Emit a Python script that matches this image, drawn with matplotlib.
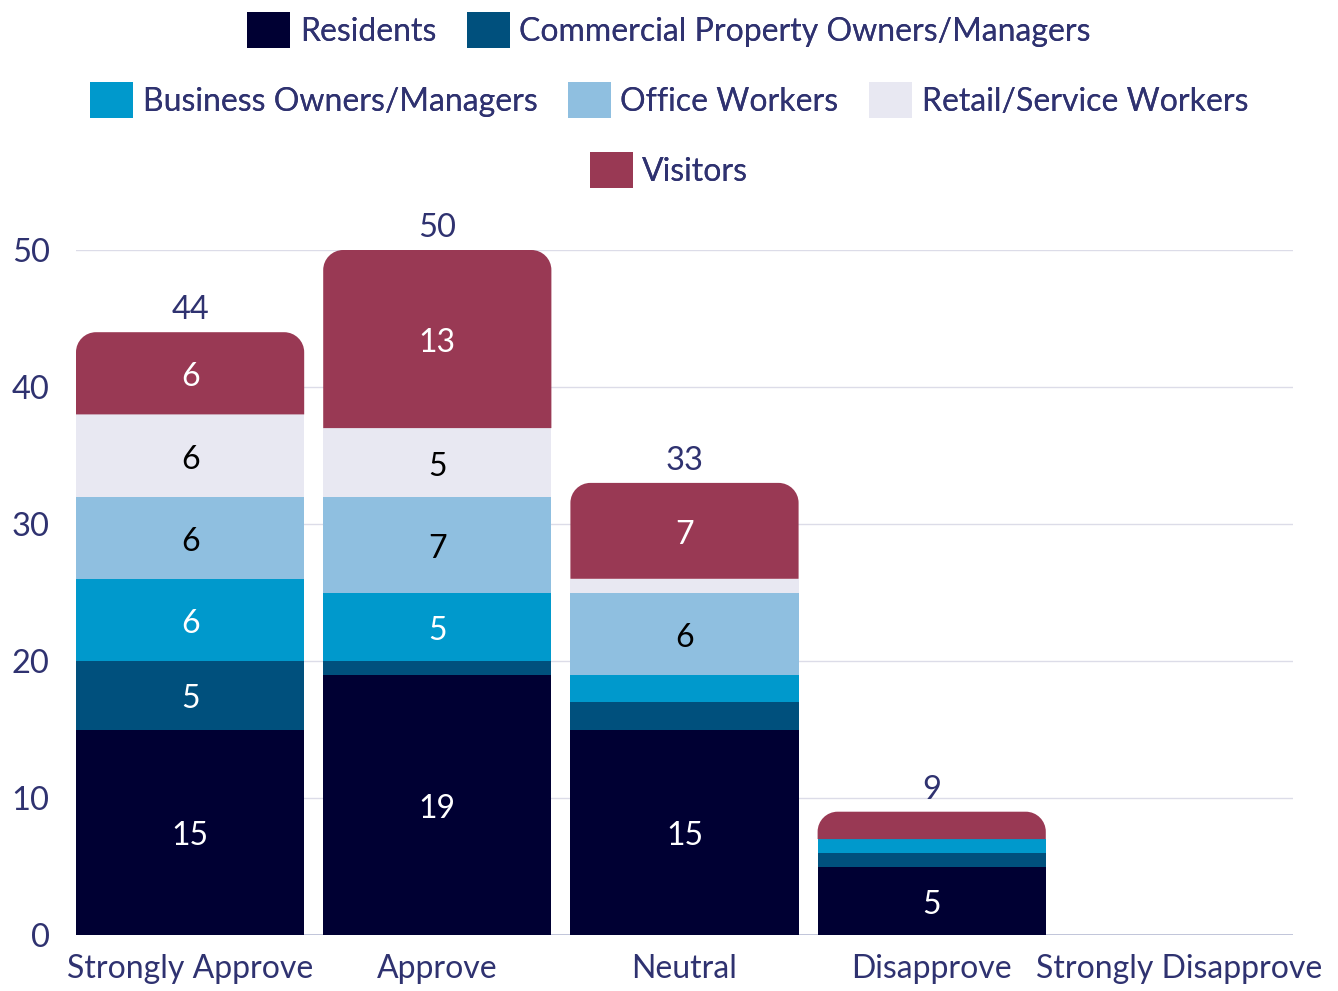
import matplotlib
matplotlib.use("Agg")
import matplotlib.pyplot as plt
from matplotlib.path import Path
from matplotlib.patches import PathPatch, Patch
import numpy as np

categories = ["Strongly Approve", "Approve", "Neutral", "Disapprove", "Strongly Disapprove"]
series_names = ["Residents", "Commercial Property Owners/Managers", "Business Owners/Managers",
                "Office Workers", "Retail/Service Workers", "Visitors"]
residents = [15, 19, 15, 5, 0]
commercial = [5, 1, 2, 1, 0]
business = [6, 5, 2, 1, 0]
office = [6, 7, 6, 0, 0]
retail = [6, 5, 1, 0, 0]
visitors = [6, 13, 7, 2, 0]
yticks = [0, 10, 20, 30, 40, 50]

series_values = [residents, commercial, business, office, retail, visitors]
colors = ["#000033", "#00507d", "#0099cc", "#8fbfe0", "#e8e8f2", "#993954"]
label_colors = ["white", "white", "white", "black", "black", "white"]
navy = "#2f3270"

plt.rcParams['font.family'] = ['Lato', 'DejaVu Sans']

fig = plt.figure(figsize=(13.38, 9.91), dpi=100)
ax = fig.add_axes([76/1338, 56/991, (1293-76)/1338, (935-250)/991])

x = np.arange(len(categories))
width = 228/247
bottoms = np.zeros(len(categories))
containers = []
for name, vals, c in zip(series_names, series_values, colors):
    bc = ax.bar(x, vals, width, bottom=bottoms, color=c, label=name, zorder=3, linewidth=0)
    containers.append((bc, np.array(vals, dtype=float), bottoms.copy()))
    bottoms += np.array(vals, dtype=float)
totals = bottoms

ax.set_xlim(-width/2, len(categories) - 1 + width/2)
ax.set_ylim(0, 50)

# rounded top corners on topmost nonzero segment
rx = 20/247
ry = 20/13.7
for i in range(len(categories)):
    if totals[i] <= 0:
        continue
    for bc, vals, bots in reversed(containers):
        if vals[i] > 0:
            rect = bc.patches[i]
            x0 = rect.get_x(); w = rect.get_width()
            y0 = rect.get_y(); h = rect.get_height()
            rect.set_visible(False)
            r_y = min(ry, h)
            k = 0.5523
            verts = [
                (x0, y0), (x0 + w, y0), (x0 + w, y0 + h - r_y),
                (x0 + w, y0 + h - r_y + k*r_y), (x0 + w - rx + k*rx, y0 + h), (x0 + w - rx, y0 + h),
                (x0 + rx, y0 + h),
                (x0 + rx - k*rx, y0 + h), (x0, y0 + h - r_y + k*r_y), (x0, y0 + h - r_y),
                (x0, y0),
            ]
            codes = [Path.MOVETO, Path.LINETO, Path.LINETO,
                     Path.CURVE4, Path.CURVE4, Path.CURVE4,
                     Path.LINETO,
                     Path.CURVE4, Path.CURVE4, Path.CURVE4,
                     Path.CLOSEPOLY]
            ax.add_patch(PathPatch(Path(verts, codes), facecolor=rect.get_facecolor(),
                                   linewidth=0, zorder=3))
            break

# segment labels
for (bc, vals, bots), lc in zip(containers, label_colors):
    for i in range(len(categories)):
        if vals[i] >= 3:
            ax.annotate(f"{int(vals[i])}", (x[i], bots[i] + vals[i]/2), xytext=(0, -3),
                        textcoords="offset points", ha="center", va="center",
                        fontsize=23, color=lc, zorder=5)

# totals
for i in range(len(categories)):
    if totals[i] > 0:
        ax.annotate(f"{int(totals[i])}", (x[i], totals[i]), xytext=(0, 5), textcoords="offset points",
                    ha="center", va="bottom", fontsize=23.5, color=navy, annotation_clip=False)

ax.set_yticks(yticks)
ax.set_yticklabels([str(t) for t in yticks])
ax.set_xticks(x)
ax.set_xticklabels(categories)
ax.tick_params(axis="y", length=0, pad=19, labelsize=23.5, labelcolor=navy)
ax.tick_params(axis="x", length=0, pad=14, labelsize=23, labelcolor=navy)
for s in ax.spines.values():
    s.set_visible(False)
ax.grid(axis="y", color="#dcdce8", linewidth=1, zorder=0)
ax.set_axisbelow(True)
ax.axhline(0, color="#b8bcd4", linewidth=1.2, zorder=2)

handles = [Patch(facecolor=c, edgecolor="none", label=n) for c, n in zip(colors, series_names)]
legend_kw = dict(frameon=False, fontsize=23, handlelength=1.35, handleheight=1.35,
                 handletextpad=0.3, columnspacing=0.95, labelcolor=navy, borderaxespad=0, borderpad=0)
rows = [(handles[0:2], 30), (handles[2:5], 100), (handles[5:6], 170)]
for hs, yc in rows:
    lg = fig.legend(handles=hs, loc="center", bbox_to_anchor=(0.5, 1 - yc/991), ncol=len(hs), **legend_kw)
    fig.add_artist(lg)

fig.savefig("out.png", dpi=100)
